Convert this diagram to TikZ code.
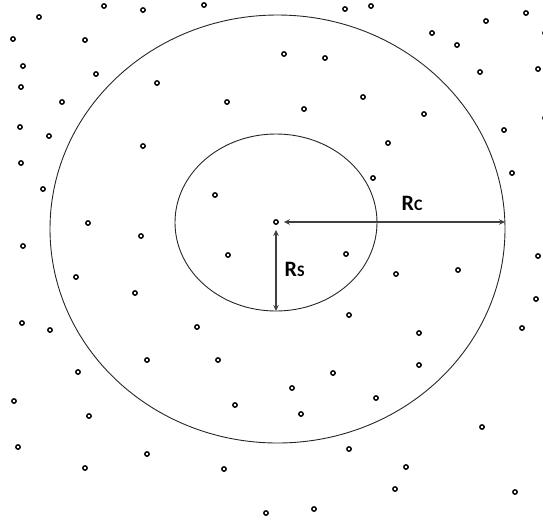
\documentclass[tikz,border=0pt]{standalone}
\usepackage{fontspec}
\setmainfont{Carlito}
\usetikzlibrary{arrows.meta}
\begin{document}
\begin{tikzpicture}[x=1pt,y=-1pt,
  dot/.style={circle,draw=black,line width=1.4pt,minimum size=4.4pt,inner sep=0pt},
  ring/.style={draw=black!85,line width=0.9pt},
  radius arrow/.style={draw=black!75,line width=1.2pt,{Stealth[length=6pt,width=5.5pt]}-{Stealth[length=6pt,width=5.5pt]}},
  lbl/.style={anchor=base west,inner sep=0pt,font=\bfseries\fontsize{22}{22}\selectfont}]
\useasboundingbox (0,0) rectangle (543,523);
% circles
\draw[ring] (277.5,229) ellipse [x radius=227.5, y radius=214];
\draw[ring] (276,222.5) ellipse [x radius=101, y radius=88.5];
% dots
\foreach \p [count=\i] in {
 {104,6},{39,17},{13,39},{85,40},{23,66},{96,74},{21,87},{62,102},{20,127},{49,136},{21,163},
 {143,10},{204,5},{157,83},{227,102},{143,146},
 {345,9},{371,6},{284,54},{325,58},{363,97},{304,109},{388,143},
 {526,13},{486,21},{432,33},{457,45},{480,72},{538,69},{424,114},{504,130},{512,173},
 {43,189},{88,223},{23,246},{76,277},{135,293},{22,323},{50,330},
 {215,195},{141,236},{228,255},{197,327},
 {373,178},{346,254},{396,274},{349,315},
 {538,256},{458,270},{536,299},{419,333},{522,328},
 {78,372},{14,401},{89,416},{18,447},{85,468},
 {147,360},{218,360},{235,405},{147,454},{224,469},{266,513},
 {333,373},{292,388},{376,398},{301,414},{349,449},{406,467},{395,489},{314,509},
 {419,365},{482,427},{515,492},{545,33},{545,118}}
 \node[dot] (d\i) at (\p) {};
% centre and radii
\node[dot] (c) at (276,222) {};
\coordinate (rc) at (505,222);
\coordinate (rs) at (276,311);
\draw[radius arrow,shorten <=5pt] (c) -- (rc);
\draw[radius arrow,shorten <=5pt] (c) -- (rs);
\node[lbl] (lc) at (401.5,210) {R{\fontsize{16}{16}\selectfont C}};
\node[lbl] (ls) at (284.5,276) {R{\fontsize{16}{16}\selectfont S}};
\end{tikzpicture}
\end{document}
